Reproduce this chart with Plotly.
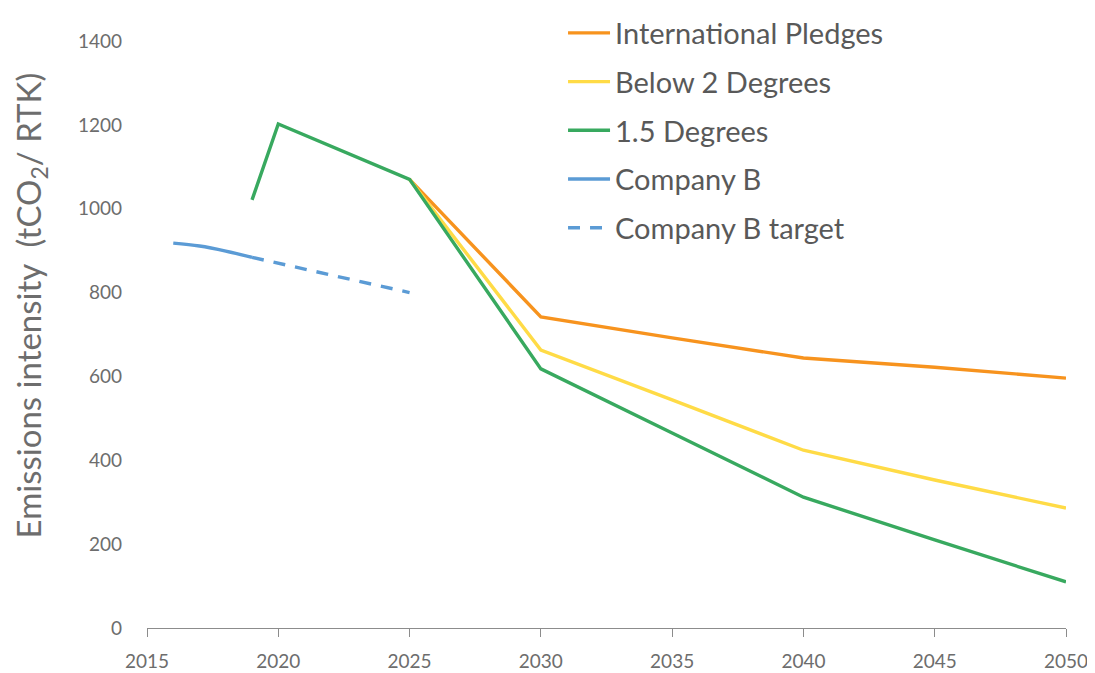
import plotly.graph_objects as go

years_5 = [2025, 2030, 2035, 2040, 2045, 2050]
intl_pledges = [1070, 742, 692, 644, 622, 596]
below_2 = [1070, 663, 544, 424, 353, 286]

years_15 = [2019, 2020, 2025, 2030, 2035, 2040, 2045, 2050]
deg_15 = [1021, 1202, 1070, 618, 465, 312, 210, 110]

years_b = [2016, 2017, 2018, 2019]
company_b = [918, 911, 899, 884]

years_bt = [2019, 2025]
company_b_target = [884, 800]

x_ticks = [2015, 2020, 2025, 2030, 2035, 2040, 2045, 2050]
y_ticks = [0, 200, 400, 600, 800, 1000, 1200, 1400]

FONT = "Lato"
W = 3.4
fig = go.Figure()
fig.add_trace(go.Scatter(x=years_5, y=intl_pledges, mode="lines", name="International Pledges",
                         line=dict(color="#F7931E", width=W), legendgroup="a"))
fig.add_trace(go.Scatter(x=years_5, y=below_2, mode="lines", name="Below 2 Degrees",
                         line=dict(color="#FFDB46", width=W), legendgroup="b"))
fig.add_trace(go.Scatter(x=years_15, y=deg_15, mode="lines", name="1.5 Degrees",
                         line=dict(color="#38A95F", width=W), legendgroup="c"))
fig.add_trace(go.Scatter(x=years_b, y=company_b, mode="lines", name="Company B",
                         line=dict(color="#5B9BD5", width=W, shape="spline"), legendgroup="d"))
fig.add_trace(go.Scatter(x=years_bt, y=company_b_target, mode="lines", name="Company B target",
                         line=dict(color="#5B9BD5", width=W, dash="12px,10px"), legendgroup="e"))

fig.update_layout(
    width=1087, height=665,
    margin=dict(l=139, r=29, t=33, b=45, autoexpand=False),
    paper_bgcolor="white", plot_bgcolor="white",
    font=dict(family=FONT, color="#595959"),
    legend=dict(x=0.4527, y=1.057, xanchor="left", yanchor="top",
                font=dict(size=29, color="#595959", family=FONT),
                itemwidth=42, tracegroupgap=8, bgcolor="rgba(0,0,0,0)"),
    xaxis=dict(range=[2015, 2050], tickvals=x_ticks,
               showgrid=False, showline=True, linecolor="#8c8c8c", linewidth=1.2,
               ticks="outside", ticklen=8, tickcolor="#8c8c8c", tickwidth=1.2,
               ticklabelstandoff=8,
               tickfont=dict(size=19, color="#6d6d6d", family=FONT), zeroline=False),
    yaxis=dict(range=[0, 1400], tickvals=y_ticks,
               showgrid=False, showline=False, zeroline=False, ticks="",
               ticklabelstandoff=24,
               tickfont=dict(size=19, color="#6d6d6d", family=FONT)),
    annotations=[dict(text="Emissions intensity  (tCO<sub>2</sub>/ RTK)",
                      xref="paper", yref="paper", x=-0.127, y=0.55,
                      xanchor="center", yanchor="middle", textangle=-90, showarrow=False,
                      font=dict(size=33, color="#6d6d6d", family=FONT))],
)
fig.write_html("out.html")
